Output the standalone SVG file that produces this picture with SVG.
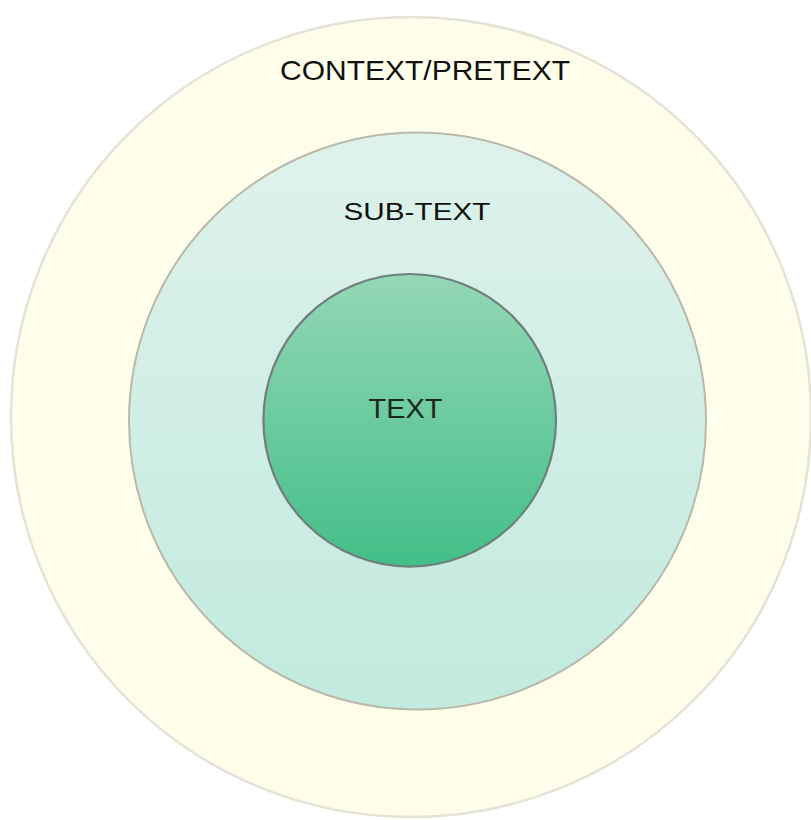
<svg xmlns="http://www.w3.org/2000/svg" width="811" height="820" viewBox="0 0 811 820">
  <style>
    .lbl { font-family: "Liberation Sans", Arial, sans-serif; text-anchor: middle; fill: #111; }
  </style>
  <defs>
    <linearGradient id="gMid" x1="0" y1="0" x2="0" y2="1">
      <stop offset="0" stop-color="#DEF2EB"/>
      <stop offset="1" stop-color="#C2EADF"/>
    </linearGradient>
    <linearGradient id="gIn" x1="0" y1="0" x2="0" y2="1">
      <stop offset="0" stop-color="#94D7B6"/>
      <stop offset="1" stop-color="#43BF88"/>
    </linearGradient>
  </defs>
  <rect width="811" height="820" fill="#ffffff"/>
  <g id="outer">
    <circle cx="411" cy="417" r="400" fill="#FEFEEA" stroke="#E4E4D6" stroke-width="2.5"/>
    <text class="lbl" x="425" y="79.5" font-size="28" textLength="290" lengthAdjust="spacingAndGlyphs">CONTEXT/PRETEXT</text>
  </g>
  <g id="middle">
    <circle cx="417.5" cy="421" r="288.5" fill="url(#gMid)" stroke="#B9B9AB" stroke-width="2"/>
    <text class="lbl" x="417" y="219.5" font-size="24.5" textLength="147" lengthAdjust="spacingAndGlyphs">SUB-TEXT</text>
  </g>
  <g id="inner">
    <circle cx="409.7" cy="420.3" r="146.3" fill="url(#gIn)" stroke="#6F7F7A" stroke-width="2.2"/>
    <text class="lbl" x="405.5" y="417.5" font-size="27.5" textLength="74" lengthAdjust="spacingAndGlyphs" style="fill:#1C2A1E">TEXT</text>
  </g>
  <g id="connectors"/>
</svg>
